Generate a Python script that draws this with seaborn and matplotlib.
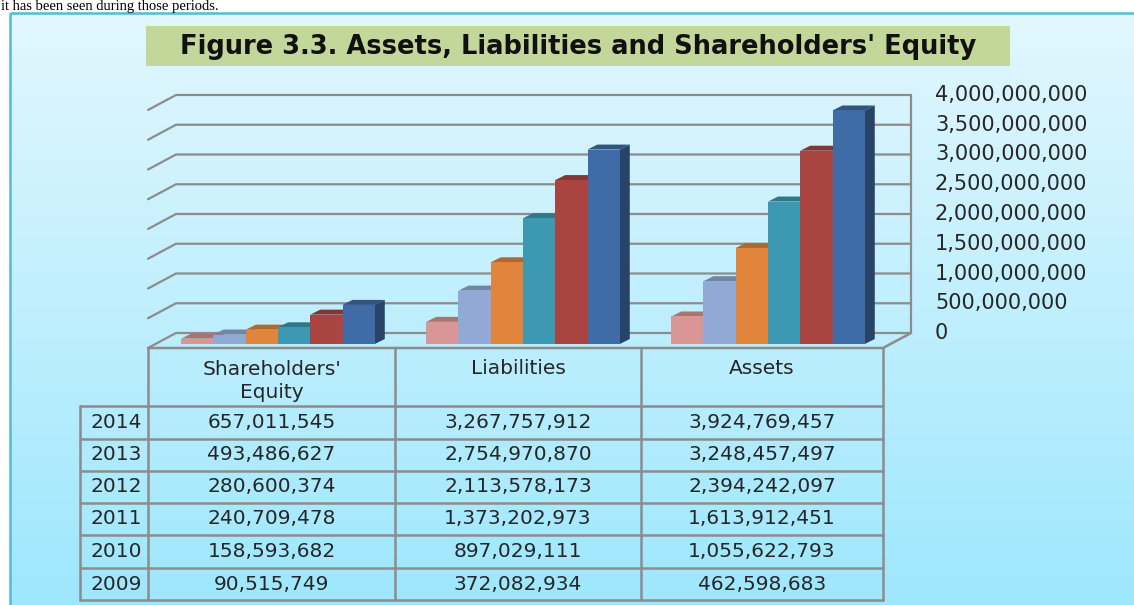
import matplotlib
matplotlib.use('Agg')

import numpy as np
import pandas as pd
import matplotlib.pyplot as plt
import seaborn as sns
from matplotlib.patches import Polygon, Rectangle
from matplotlib.colors import to_rgb

# --- data ---
categories = ["Shareholders' Equity", "Liabilities", "Assets"]
header_labels = ["Shareholders'\nEquity", "Liabilities", "Assets"]
years = ['2009', '2010', '2011', '2012', '2013', '2014']
equity = [90515749, 158593682, 240709478, 280600374, 493486627, 657011545]
liabilities = [372082934, 897029111, 1373202973, 2113578173, 2754970870, 3267757912]
assets = [462598683, 1055622793, 1613912451, 2394242097, 3248457497, 3924769457]
year_colors = ['#d99694', '#93a9d5', '#e0853b', '#3d98b1', '#aa4441', '#3f6ca6']
y_ticks = np.arange(0, 4.0e9 + 1, 5e8)
title = "Figure 3.3. Assets, Liabilities and Shareholders' Equity"
intro_text = "it has been seen during those periods."

rows = []
for cat, vals in zip(categories, [equity, liabilities, assets]):
    for yr, v in zip(years, vals):
        rows.append([cat, yr, v])
df = pd.DataFrame(rows, columns=['category', 'year', 'value'])

sns.set_theme(style='white')
plt.rcParams['font.family'] = ['DejaVu Sans']

W, H = 1134, 605
fig = plt.figure(figsize=(W / 100, H / 100), dpi=100)
fig.patch.set_facecolor('white')

# background axes in pixel coordinates
bg = fig.add_axes([0, 0, 1, 1])
bg.set_xlim(0, W)
bg.set_ylim(H, 0)
bg.axis('off')

top_c = np.array(to_rgb('#e2f7fd'))
bot_c = np.array(to_rgb('#9de7fe'))
t = np.linspace(0, 1, 256)[:, None, None]
grad = top_c + (bot_c - top_c) * t
bg.imshow(grad, extent=[10, W + 5, H + 5, 13], aspect='auto', zorder=0)
bg.add_patch(Rectangle((10, 13), W, H, fill=False, edgecolor='#55b9d8', lw=1.8, zorder=1))
bg.set_xlim(0, W)
bg.set_ylim(H, 0)

bg.text(1, 0, intro_text, family='Liberation Serif', fontsize=10.5, va='top', color='black')

# title box
bg.add_patch(Rectangle((146, 26), 864, 40, facecolor='#c4d79b', edgecolor='none', zorder=1))
bg.text(578, 46.5, title, ha='center', va='center', fontsize=18.5, fontweight='bold',
        color='#111111', zorder=2)

# table
line_c = '#8c8c8c'
col_x = [80, 148, 395, 641, 883]
row_y = [348, 406, 439, 471, 503, 535, 568, 600]
bg.plot([80, 80], [row_y[1], row_y[-1]], color=line_c, lw=1.8)
for x in col_x[1:]:
    bg.plot([x, x], [row_y[0], row_y[-1]], color=line_c, lw=1.8)
for y in row_y[1:]:
    bg.plot([80, 883], [y, y], color=line_c, lw=1.8)

txt_c = '#262626'
col_centers = [(col_x[i + 1] + col_x[i + 2]) / 2 for i in range(3)]
for cx, lab in zip(col_centers, header_labels):
    if '\n' in lab:
        bg.text(cx, 381, lab, ha='center', va='center', fontsize=14.5, color=txt_c, linespacing=1.25)
    else:
        bg.text(cx, 369, lab, ha='center', va='center', fontsize=14.5, color=txt_c)

table_vals = [equity, liabilities, assets]
for r in range(len(years)):
    k = len(years) - 1 - r
    yc = (row_y[r + 1] + row_y[r + 2]) / 2
    bg.text(116, yc, years[k], ha='center', va='center', fontsize=14.5, color=txt_c)
    for cx, vals in zip(col_centers, table_vals):
        bg.text(cx, yc, f'{vals[k]:,}', ha='center', va='center', fontsize=14.5, color=txt_c)

# chart axes (front plane of the 3D box)
ax = fig.add_axes([148 / W, (H - 348) / H, 735 / W, 238 / H])
ax.set_zorder(2)
ax.patch.set_alpha(0)
sns.barplot(data=df, x='category', y='value', hue='year', order=categories, hue_order=years,
            palette=year_colors, width=0.79, saturation=1, legend=False, ax=ax,
            edgecolor='none', linewidth=0)
ax.set_xlim(-0.5, 2.5)
ax.set_ylim(0, 4e9)
ax.axis('off')

sx = 3 / 735.0
sy = 4e9 / 238.0
wall_dx, wall_dy = 28 * sx, 15 * sy

# back wall gridlines with left side wall
for v in y_ticks:
    ax.plot([-0.5, -0.5 + wall_dx, 2.5 + wall_dx], [v, v + wall_dy, v + wall_dy],
            color=line_c, lw=1.6, clip_on=False, zorder=1)
    ax.text(2.5 + 52 * sx, v + wall_dy, f'{v:,.0f}', ha='left', va='center',
            fontsize=15, color=txt_c, clip_on=False)
ax.plot([2.5 + wall_dx] * 2, [wall_dy, 4e9 + wall_dy], color=line_c, lw=1.6, clip_on=False, zorder=1)
ax.plot([-0.5, 2.5, 2.5 + wall_dx], [0, 0, wall_dy], color=line_c, lw=1.8, clip_on=False, zorder=1)

# 3D faces on the bars
bw, bh = 10 * sx, 5 * sy
bars = sorted([p for p in ax.patches if isinstance(p, Rectangle)], key=lambda p: p.get_x())
for i, p in enumerate(bars):
    k = i % len(years)
    p.set_x(p.get_x() + 7.5 * sx)
    p.set_y(4 * sy)
    p.set_clip_on(False)
    p.set_zorder(5 + 2 * k)
    x0, x1 = p.get_x(), p.get_x() + p.get_width()
    y0, y1 = p.get_y(), p.get_y() + p.get_height()
    base = np.array(to_rgb(p.get_facecolor()))
    side = Polygon([(x1, y0), (x1 + bw, y0 + bh), (x1 + bw, y1 + bh), (x1, y1)],
                   facecolor=base * 0.62, edgecolor='none', clip_on=False, zorder=4 + 2 * k)
    top = Polygon([(x0, y1), (x1, y1), (x1 + bw, y1 + bh), (x0 + bw, y1 + bh)],
                  facecolor=base * 0.78, edgecolor='none', clip_on=False, zorder=4 + 2 * k)
    ax.add_patch(side)
    ax.add_patch(top)

fig.savefig('out.png', dpi=100)
